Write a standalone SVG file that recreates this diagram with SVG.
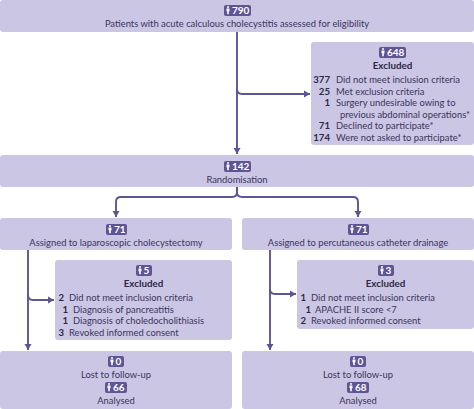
<svg xmlns="http://www.w3.org/2000/svg" width="474" height="409" viewBox="0 0 474 409">
<style>
.b{fill:#cbc6e3}
text{font-family:"Lato","Liberation Sans",sans-serif;font-size:9.4px;fill:#3a3560}
.c{text-anchor:middle}
.n{font-weight:700;fill:#2c2848;text-anchor:end;font-size:9.6px}
.h{font-weight:700;fill:#2c2848;text-anchor:middle;font-size:9.8px}
.w{font-weight:700;fill:#fff;font-size:10px}
.l{fill:none;stroke:#5f5494;stroke-width:1.900}
.p{fill:#5f5494}
</style>
<defs>
<marker id="a" markerUnits="userSpaceOnUse" markerWidth="7" markerHeight="8" refX="6" refY="4" orient="auto"><path d="M0 .5L6 4L0 7.500Z" fill="#5f5494"/></marker>
<g id="person"><circle cx="0" cy="-3.400" r="1" fill="#fff"/><path d="M-1.500-2.100H1.500V.8H.8V3.800H-.8V.8H-1.500Z" fill="#fff"/></g>
</defs>
<g id="connectors">
<path class="l" d="M237 32V154" marker-end="url(#a)"/>
<path class="l" d="M237 89Q237 94 242 94H310" marker-end="url(#a)"/>
<path class="l" d="M237 187V192Q237 197 232 197H121Q116 197 116 202V217" marker-end="url(#a)"/>
<path class="l" d="M237 187V192Q237 197 242 197H353Q358 197 358 202V217" marker-end="url(#a)"/>
<path class="l" d="M28 250V350" marker-end="url(#a)"/>
<path class="l" d="M28 295Q28 300 33 300H54" marker-end="url(#a)"/>
<path class="l" d="M270 250V350" marker-end="url(#a)"/>
<path class="l" d="M270 289Q270 294 275 294H296" marker-end="url(#a)"/>
</g>
<g id="n1"><rect class="b" y="0" width="474" height="32" rx="3"/>
<rect class="p" x="224" y="5" width="27" height="11" rx="2"/><use href="#person" x="228" y="10.500"/><text class="w" x="232" y="14.300">790</text>
<text class="c" x="237" y="26.500">Patients with acute calculous cholecystitis assessed for eligibility</text></g>
<g id="n2"><rect class="b" x="311" y="42" width="163" height="103" rx="3"/>
<rect class="p" x="379" y="47" width="27" height="11" rx="2"/><use href="#person" x="383" y="52.500"/><text class="w" x="387" y="56.300">648</text>
<text class="h" x="392.500" y="68.500">Excluded</text>
<text class="n" x="330" y="83">377</text><text x="336" y="83">Did not meet inclusion criteria</text>
<text class="n" x="330" y="94.500">25</text><text x="336" y="94.500">Met exclusion criteria</text>
<text class="n" x="330" y="106">1</text><text x="336" y="106">Surgery undesirable owing to</text>
<text x="340" y="117.500">previous abdominal operations*</text>
<text class="n" x="330" y="129">71</text><text x="336" y="129">Declined to participate*</text>
<text class="n" x="330" y="140.500">174</text><text x="336" y="140.500">Were not asked to participate*</text></g>
<g id="n3"><rect class="b" y="155" width="474" height="32" rx="3"/>
<rect class="p" x="224" y="161" width="27" height="11" rx="2"/><use href="#person" x="228" y="166.500"/><text class="w" x="232" y="170.300">142</text>
<text class="c" x="237" y="182.500">Randomisation</text></g>
<g id="n4"><rect class="b" y="218" width="232" height="32" rx="3"/>
<rect class="p" x="106" y="224" width="21" height="11" rx="2"/><use href="#person" x="110" y="229.500"/><text class="w" x="114" y="233.300">71</text>
<text class="c" x="116" y="245.500">Assigned to laparoscopic cholecystectomy</text></g>
<g id="n5"><rect class="b" x="242" y="218" width="232" height="32" rx="3"/>
<rect class="p" x="348" y="224" width="21" height="11" rx="2"/><use href="#person" x="352" y="229.500"/><text class="w" x="356" y="233.300">71</text>
<text class="c" x="358" y="245.500">Assigned to percutaneous catheter drainage</text></g>
<g id="n6"><rect class="b" x="55" y="260" width="177" height="80" rx="3"/>
<rect class="p" x="136" y="265" width="16" height="11" rx="2"/><use href="#person" x="140" y="270.500"/><text class="w" x="143.500" y="274.300">5</text>
<text class="h" x="143.500" y="286.500">Excluded</text>
<text class="n" x="64" y="301">2</text><text x="69" y="301">Did not meet inclusion criteria</text>
<text class="n" x="68" y="312.500">1</text><text x="73" y="312.500">Diagnosis of pancreatitis</text>
<text class="n" x="68" y="324">1</text><text x="73" y="324">Diagnosis of choledocholithiasis</text>
<text class="n" x="64" y="335.500">3</text><text x="69" y="335.500">Revoked informed consent</text></g>
<g id="n7"><rect class="b" x="297" y="260" width="177" height="69" rx="3"/>
<rect class="p" x="378" y="265" width="16" height="11" rx="2"/><use href="#person" x="382" y="270.500"/><text class="w" x="385.500" y="274.300">3</text>
<text class="h" x="385.500" y="286.500">Excluded</text>
<text class="n" x="306" y="301">1</text><text x="311" y="301">Did not meet inclusion criteria</text>
<text class="n" x="311" y="312.500">1</text><text x="315" y="312.500">APACHE II score &lt;7</text>
<text class="n" x="306" y="324">2</text><text x="311" y="324">Revoked informed consent</text></g>
<g id="n8"><rect class="b" y="351" width="232" height="58" rx="3"/>
<rect class="p" x="108" y="356" width="16" height="11" rx="2"/><use href="#person" x="112" y="361.500"/><text class="w" x="115.500" y="365.300">0</text>
<text class="c" x="116" y="377.500">Lost to follow-up</text>
<rect class="p" x="105" y="382" width="22" height="11" rx="2"/><use href="#person" x="109" y="387.500"/><text class="w" x="113" y="391.300">66</text>
<text class="c" x="116" y="403.500">Analysed</text></g>
<g id="n9"><rect class="b" x="242" y="351" width="232" height="58" rx="3"/>
<rect class="p" x="350" y="356" width="16" height="11" rx="2"/><use href="#person" x="354" y="361.500"/><text class="w" x="357.500" y="365.300">0</text>
<text class="c" x="358" y="377.500">Lost to follow-up</text>
<rect class="p" x="347" y="382" width="22" height="11" rx="2"/><use href="#person" x="351" y="387.500"/><text class="w" x="355" y="391.300">68</text>
<text class="c" x="358" y="403.500">Analysed</text></g>
</svg>
